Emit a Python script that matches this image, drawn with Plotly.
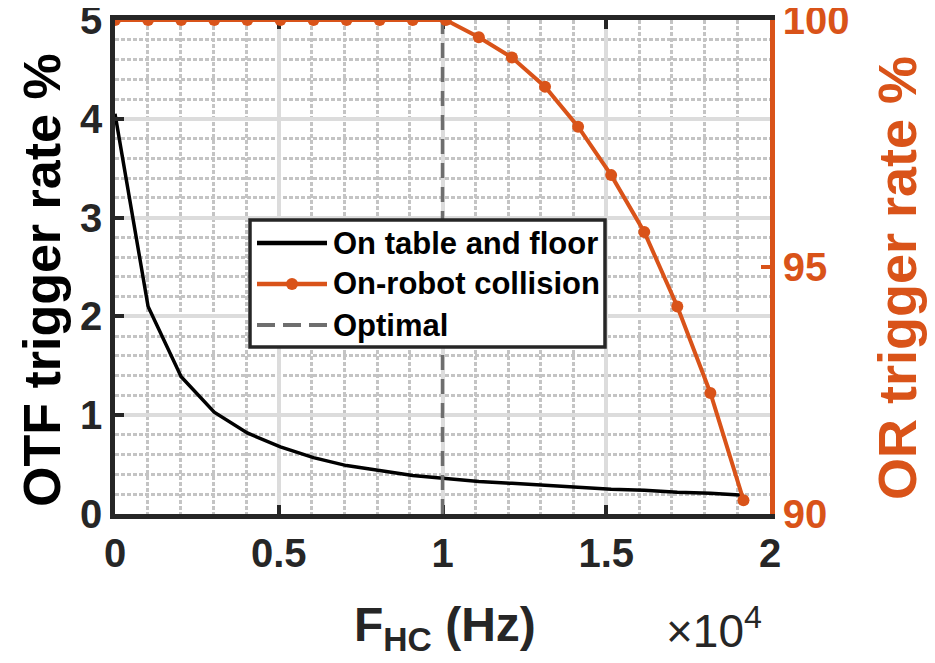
import plotly.graph_objects as go

# ---- data ----
fhc = [0, 1010, 2020, 3030, 4040, 5050, 6060, 7070, 8080, 9090,
       10100, 11110, 12120, 13130, 14140, 15150, 16160, 17170, 18180, 19190]
otf_rate = [4.05, 2.10, 1.39, 1.03, 0.82, 0.68, 0.57, 0.49, 0.44, 0.39,
            0.36, 0.33, 0.31, 0.29, 0.27, 0.25, 0.24, 0.22, 0.21, 0.19]
or_rate = [100, 100, 100, 100, 100, 100, 100, 100, 100, 100,
           100, 99.65, 99.24, 98.65, 97.84, 96.86, 95.71, 94.2, 92.45, 90.28]
optimal_x = [10000, 10000]
optimal_y = [0, 5]

x_tick_vals = [0, 5000, 10000, 15000, 20000]
x_tick_text = ["0", "0.5", "1", "1.5", "2"]
y2_tick_vals = [90, 95, 100]

series_names = ["On table and floor", "On-robot collision", "Optimal"]

ORANGE = "#D95319"
DARK = "#262626"
GRAYDASH = "#6e6e6e"
FONT = "Liberation Sans, Arial, sans-serif"

# page has an 8px body margin: figure is sized so the plot area lands where the reference has it
W, H = 927, 655
ML, MR, MT, MB = 107, 165, 12, 149
PW = W - ML - MR
PH = H - MT - MB
OFF = 8


def px(xpix):
    return (xpix - OFF - ML) / PW


def py(ypix):
    return (OFF + MT + PH - ypix) / PH


fig = go.Figure()
fig.add_trace(go.Scatter(x=fhc, y=otf_rate, mode="lines", name=series_names[0],
                         line=dict(color="black", width=3.5), yaxis="y", showlegend=False))
fig.add_trace(go.Scatter(x=optimal_x, y=optimal_y, mode="lines", name=series_names[2],
                         line=dict(color=GRAYDASH, width=3.5, dash="15px,9px"),
                         yaxis="y", showlegend=False))
fig.add_trace(go.Scatter(x=fhc, y=or_rate, mode="lines+markers", name=series_names[1],
                         line=dict(color=ORANGE, width=4),
                         marker=dict(size=12, color=ORANGE), yaxis="y2", showlegend=False))

tickfont = dict(family=FONT, size=40, color=DARK, weight="bold")

fig.update_layout(
    width=W, height=H,
    margin=dict(l=ML, r=MR, t=MT, b=MB, autoexpand=False),
    plot_bgcolor="white", paper_bgcolor="white",
    font=dict(family=FONT, color=DARK),
    showlegend=False,
    xaxis=dict(range=[0, 20000], tickmode="array", tickvals=x_tick_vals, ticktext=x_tick_text,
               ticks="inside", ticklen=9, tickwidth=3.5, tickcolor=DARK,
               showline=True, linewidth=4.5, linecolor=DARK, mirror="ticks",
               showgrid=True, gridcolor="#dcdcdc", gridwidth=3.5, zeroline=False,
               minor=dict(dtick=1000, showgrid=True, gridcolor="#c4c4c4",
                          griddash="4px,2px", gridwidth=2.5, ticks=""),
               tickfont=tickfont, layer="below traces", automargin=False,
               ticklabeloverflow="allow"),
    yaxis=dict(range=[0, 5], dtick=1, ticks="inside", ticklen=9, tickwidth=3.5, tickcolor=DARK,
               showline=True, linewidth=4.5, linecolor=DARK, mirror=False,
               showgrid=True, gridcolor="#dcdcdc", gridwidth=3.5, zeroline=False,
               minor=dict(dtick=0.2, showgrid=True, gridcolor="#c4c4c4",
                          griddash="4px,2px", gridwidth=2.5, ticks=""),
               tickfont=tickfont, automargin=False, ticklabeloverflow="allow"),
    yaxis2=dict(range=[90, 100], tickmode="array", tickvals=y2_tick_vals,
                overlaying="y", side="right", ticks="inside", ticklen=9, tickwidth=3.5,
                tickcolor=ORANGE, showline=True, linewidth=4.5, linecolor=ORANGE,
                showgrid=False, zeroline=False, automargin=False, ticklabeloverflow="allow",
                tickfont=dict(family=FONT, size=40, color=ORANGE, weight="bold")),
)

# ---- legend drawn as a boxed key (MATLAB style, long line samples) ----
box = dict(x0=250, x1=605, y0=220, y1=347)
fig.add_shape(type="rect", xref="paper", yref="paper",
              x0=px(box["x0"]), x1=px(box["x1"]), y0=py(box["y1"]), y1=py(box["y0"]),
              fillcolor="white", line=dict(color=DARK, width=3.5), layer="above")
rows_y = [243, 284, 325]
sample_x0, sample_x1, text_x = 257, 327, 331
sample_styles = [dict(color="black", width=4.5),
                 dict(color=ORANGE, width=4.5),
                 dict(color=GRAYDASH, width=4, dash="18px,8px")]
for name, ry, st in zip(series_names, rows_y, sample_styles):
    fig.add_shape(type="line", xref="paper", yref="paper",
                  x0=px(sample_x0), x1=px(sample_x1), y0=py(ry), y1=py(ry),
                  line=st, layer="above")
    fig.add_annotation(text=name, xref="paper", yref="paper", x=px(text_x), y=py(ry),
                       xanchor="left", yanchor="middle", showarrow=False,
                       font=dict(family=FONT, size=31, color="black", weight="bold"))
# marker in the orange sample
mx, my, mr = 292, rows_y[1], 6
fig.add_shape(type="circle", xref="paper", yref="paper",
              x0=px(mx - mr), x1=px(mx + mr), y0=py(my + mr), y1=py(my - mr),
              fillcolor=ORANGE, line=dict(color=ORANGE, width=0), layer="above")

# ---- axis titles ----
fig.add_annotation(text="OTF trigger rate %", xref="paper", yref="paper",
                   x=px(42), y=py(280), xanchor="center", yanchor="middle", textangle=-90,
                   showarrow=False, font=dict(family=FONT, size=52, color="black", weight="bold"))
fig.add_annotation(text="OR trigger rate %", xref="paper", yref="paper",
                   x=px(897), y=py(278), xanchor="center", yanchor="middle", textangle=-90,
                   showarrow=False, font=dict(family=FONT, size=54, color=ORANGE, weight="bold"))
fig.add_annotation(text="F<sub>HC</sub> (Hz)", xref="paper", yref="paper",
                   x=px(445), y=py(596), xanchor="center", yanchor="top",
                   showarrow=False, font=dict(family=FONT, size=48, color=DARK, weight="bold"))
fig.add_annotation(text="×10<sup>4</sup>", xref="paper", yref="paper",
                   x=px(664), y=py(597), xanchor="left", yanchor="top",
                   showarrow=False, font=dict(family=FONT, size=46, color=DARK))

fig.write_html("out.html")
